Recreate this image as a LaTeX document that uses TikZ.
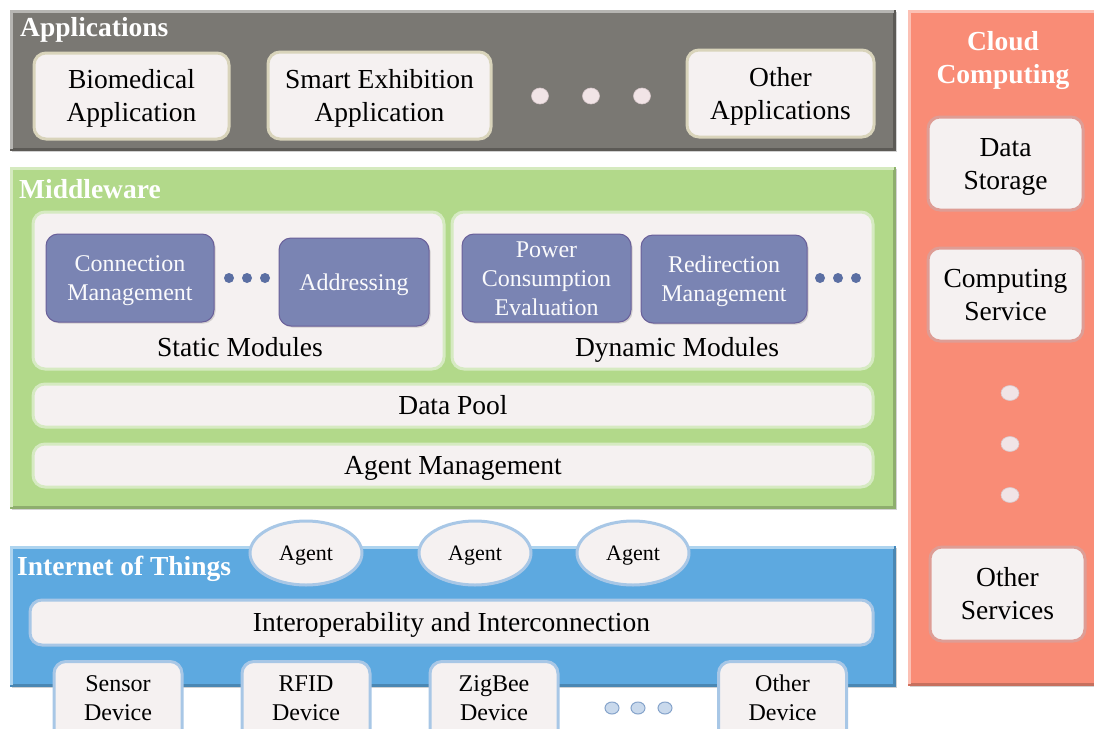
\documentclass[tikz,border=0pt]{standalone}
\usepackage{fontspec}
\setmainfont{Liberation Serif}
\usetikzlibrary{shadows,shapes.geometric}

\definecolor{appgrey}{HTML}{7A7873}
\definecolor{appedge}{HTML}{5E5C58}
\definecolor{mwgreen}{HTML}{B2D98A}
\definecolor{mwedge}{HTML}{8DB86A}
\definecolor{iotblue}{HTML}{5DA9E0}
\definecolor{iotedge}{HTML}{3F89C4}
\definecolor{cloudsal}{HTML}{F98C76}
\definecolor{cloudedge}{HTML}{D9705C}
\definecolor{paper}{HTML}{F5F1F1}
\definecolor{appcardedge}{HTML}{D9D4BB}
\definecolor{mwcardedge}{HTML}{D6EAC2}
\definecolor{iotcardedge}{HTML}{A8C7E6}
\definecolor{cloudcardedge}{HTML}{DE9D95}
\definecolor{modfill}{HTML}{7A84B3}
\definecolor{modedge}{HTML}{6A609A}
\definecolor{moddot}{HTML}{5B6FA3}
\definecolor{lightdot}{HTML}{F1E4E6}
\definecolor{lightdotedge}{HTML}{D9C9CC}
\definecolor{bluedot}{HTML}{C9D9EC}
\definecolor{bluedotedge}{HTML}{86A4CB}

% line box of a text line: full ascent and descent of the font
\newcommand\lb{\rule[-0.216em]{0pt}{1.107em}}

% bevelled rim of a layer panel: light top-left, dark bottom-right
\newcommand\panelbevel[3]{%
  \draw[line width=3pt, #3]
    ([shift={(1.5,-1.5)}]#1.south west) -- ([shift={(-1.5,-1.5)}]#1.south east)
    -- ([shift={(-1.5,1.5)}]#1.north east);
  \draw[line width=3pt, #2]
    ([shift={(1.5,-1.5)}]#1.south west) -- ([shift={(1.5,1.5)}]#1.north west)
    -- ([shift={(-1.5,1.5)}]#1.north east);
}

\tikzset{
  panel/.style={rectangle, line width=1pt, inner sep=0pt,
    drop shadow={opacity=0.35, shadow xshift=2pt, shadow yshift=-2pt}},
  ttl/.style={inner sep=0pt, text=white, font=\fontsize{27.5}{33}\selectfont\bfseries},
  card/.style={rectangle, rounded corners=12pt, fill=paper, draw=#1,
    line width=3pt, align=center, inner sep=0pt},
  modbox/.style={rectangle, rounded corners=12pt, fill=modfill, draw=modedge,
    line width=1pt, align=center, inner sep=0pt, text=white!96!modfill,
    font=\fontsize{24}{29}\selectfont,
    drop shadow={opacity=0.3, shadow xshift=1.5pt, shadow yshift=-1.5pt}},
  agentbox/.style={ellipse, fill=paper, draw=iotcardedge, line width=3pt,
    inner sep=0pt, minimum width=112pt, minimum height=64pt,
    font=\fontsize{22}{26}\selectfont},
  devtext/.style={align=center, inner sep=0pt, font=\fontsize{24}{29}\selectfont},
  plain/.style={inner sep=0pt},
  sdot/.style={circle, fill=moddot, inner sep=0pt, minimum size=10pt},
  ldot/.style={ellipse, fill=lightdot, draw=lightdotedge, line width=0.6pt,
    inner sep=0pt, minimum width=#1},
  bdot/.style={ellipse, fill=bluedot, draw=bluedotedge, line width=1pt,
    inner sep=0pt, minimum width=14pt, minimum height=12pt},
}

\begin{document}
\begin{tikzpicture}[x=1pt, y=-1pt, font=\fontsize{27.5}{33}\selectfont]
\clip (0,0) rectangle (1094,728);
\fill[white] (0,0) rectangle (1094,728);

% ---------- layer panels ----------
\node[panel, fill=appgrey, draw=appedge, minimum width=885pt, minimum height=140pt] (apps) at (452.5,80) {};
\node[panel, fill=mwgreen, draw=mwedge, minimum width=885pt, minimum height=341pt] (mw) at (452.5,337.5) {};
\node[panel, fill=iotblue, draw=iotedge, minimum width=885pt, minimum height=140pt] (iot) at (452.5,616) {};
\node[panel, fill=cloudsal, draw=cloudedge, minimum width=200pt, minimum height=675pt] (cloud) at (1008,347.5) {};
\panelbevel{apps}{appgrey!55!white}{appgrey!75!black}
\panelbevel{mw}{mwgreen!55!white}{mwgreen!80!black}
\panelbevel{iot}{iotblue!50!white}{iotblue!80!black}
\panelbevel{cloud}{cloudsal!55!white}{cloudsal!80!black}

% ---------- titles ----------
\node[ttl, anchor=west] (appsT) at (20,27) {\lb Applications\lb};
\node[ttl, anchor=west] (mwT) at (19,189) {\lb Middleware\lb};
\node[ttl, anchor=west] (iotT) at (17,566) {\lb Internet of Things\lb};
\node[ttl, align=center] (cloudT) at (1003,58) {\lb Cloud\\Computing\lb};

% ---------- applications ----------
\node[card=appcardedge, minimum width=195pt, minimum height=86pt] (bio) at (131.5,96) {\lb Biomedical\\Application\lb};
\node[card=appcardedge, minimum width=223pt, minimum height=87pt] (smart) at (379.5,95.5) {\lb Smart Exhibition\\Application\lb};
\node[card=appcardedge, minimum width=187pt, minimum height=87pt] (otherapp) at (780.5,93.5) {\lb Other\\Applications\lb};
\node[ldot=17pt, minimum height=16pt] (ad1) at (540,96) {};
\node[ldot=17pt, minimum height=16pt] (ad2) at (591,96) {};
\node[ldot=17pt, minimum height=16pt] (ad3) at (642,96) {};

% ---------- middleware ----------
\node[card=mwcardedge, minimum width=411pt, minimum height=157pt] (static) at (238.5,290.5) {};
\node[card=mwcardedge, minimum width=421pt, minimum height=157pt] (dynamic) at (662.5,290.5) {};
\node[modbox, minimum width=168pt, minimum height=88pt] (conn) at (130,278) {\lb Connection\\Management\lb};
\node[modbox, minimum width=150pt, minimum height=88pt] (addr) at (354,282) {\lb Addressing\lb};
\node[modbox, minimum width=169pt, minimum height=88pt] (power) at (546.5,278) {\lb Power\\Consumption\\Evaluation\lb};
\node[modbox, minimum width=166pt, minimum height=88pt] (redir) at (724,279) {\lb Redirection\\Management\lb};
\node[sdot] (sd1) at (229,278) {};
\node[sdot] (sd2) at (247,278) {};
\node[sdot] (sd3) at (265,278) {};
\node[sdot] (dd1) at (820,278) {};
\node[sdot] (dd2) at (838,278) {};
\node[sdot] (dd3) at (856,278) {};
\node[plain] (staticT) at (240,347) {\lb Static Modules\lb};
\node[plain] (dynamicT) at (677,347) {\lb Dynamic Modules\lb};
\node[card=mwcardedge, minimum width=840pt, minimum height=43pt] (pool) at (453,405.5) {\lb Data Pool\lb};
\node[card=mwcardedge, minimum width=840pt, minimum height=43pt] (agentmgmt) at (453,465.5) {\lb Agent Management\lb};

% ---------- internet of things ----------
\node[card=iotcardedge, minimum width=843pt, minimum height=45pt] (interop) at (451.5,622.5) {\lb Interoperability and Interconnection\lb};
\node[agentbox] (ag1) at (306,553) {\lb Agent\lb};
\node[agentbox] (ag2) at (475,553) {\lb Agent\lb};
\node[agentbox] (ag3) at (633,553) {\lb Agent\lb};

\node[card=iotcardedge, anchor=north, minimum width=128pt, minimum height=100pt] (sensor) at (118,660) {};
\node[card=iotcardedge, anchor=north, minimum width=128pt, minimum height=100pt] (rfid) at (306,660) {};
\node[card=iotcardedge, anchor=north, minimum width=128pt, minimum height=100pt] (zigbee) at (494,660) {};
\node[card=iotcardedge, anchor=north, minimum width=128pt, minimum height=100pt] (otherdev) at (782.5,660) {};
\node[devtext] (sensorT) at (118,697.5) {\lb Sensor\\Device\lb};
\node[devtext] (rfidT) at (306,697.5) {\lb RFID\\Device\lb};
\node[devtext] (zigbeeT) at (494,697.5) {\lb ZigBee\\Device\lb};
\node[devtext] (otherdevT) at (782.5,697.5) {\lb Other\\Device\lb};
\node[bdot] (bd1) at (612,708) {};
\node[bdot] (bd2) at (638,708) {};
\node[bdot] (bd3) at (665,708) {};

% ---------- cloud computing ----------
\node[card=cloudcardedge, minimum width=155pt, minimum height=93pt] (storage) at (1005.5,163.5) {\lb Data\\Storage\lb};
\node[card=cloudcardedge, minimum width=155pt, minimum height=93pt] (compute) at (1005.5,294.5) {\lb Computing\\Service\lb};
\node[card=cloudcardedge, minimum width=155pt, minimum height=94pt] (othersvc) at (1007.5,594) {\lb Other\\Services\lb};
\node[ldot=18pt, minimum height=15pt] (cd1) at (1010,393) {};
\node[ldot=18pt, minimum height=15pt] (cd2) at (1010,444) {};
\node[ldot=18pt, minimum height=15pt] (cd3) at (1010,495) {};
\end{tikzpicture}
\end{document}
